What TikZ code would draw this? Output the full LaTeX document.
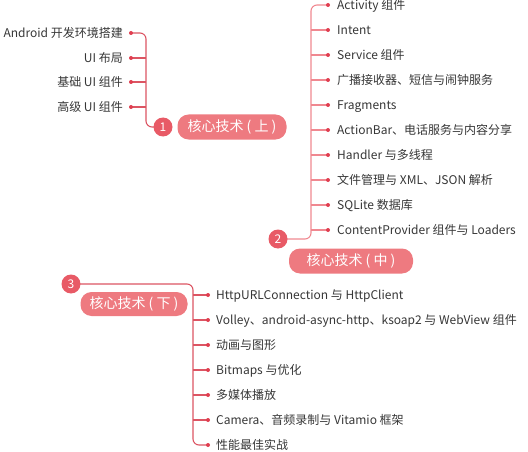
\documentclass[tikz,border=0pt]{standalone}
\usepackage{fontspec}
\setmainfont{Noto Sans CJK SC}
\usetikzlibrary{backgrounds}
\definecolor{lineA}{HTML}{DC5563}
\definecolor{lineB}{HTML}{F08890}
\definecolor{dotc}{HTML}{E03E50}
\definecolor{circc}{HTML}{E85A66}
\definecolor{boxc}{HTML}{EE7A80}
\definecolor{txt}{HTML}{363636}
\tikzset{
  item/.style={font=\fontsize{12}{14}\selectfont, text=txt, inner sep=0pt},
  dotn/.style={circle, fill=dotc, inner sep=0pt, minimum size=4pt},
  numc/.style={circle, fill=circc, text=white, inner sep=0pt, minimum size=19pt, font=\fontsize{12}{14}\selectfont},
  topic/.style={rounded corners=11pt, fill=boxc, text=white, inner sep=0pt, minimum height=25pt, font=\fontsize{14}{16}\selectfont},
  conA/.style={draw=lineA, line width=1.1pt, rounded corners=6pt},
  conB/.style={draw=lineB, line width=1.1pt, rounded corners=6pt},
}
\begin{document}
\begin{tikzpicture}[x=1pt,y=-1pt]
\useasboundingbox (0,0) rectangle (528,452);
% ---- group 1
\node[numc] (c1) at (163,127) {1};
\node[topic, minimum width=109pt] (t1) at (232,127) {核心技术 ( 上 )};
\coordinate (j1) at (146,33);
\foreach \i/\y/\t in {1/33/Android 开发环境搭建, 2/58/UI 布局, 3/82/基础 UI 组件, 4/107/高级 UI 组件}{
  \node[dotn] (d1\i) at (131,\y) {};
  \node[item, anchor=base east] (l1\i) at (123,\y+4.5) {\t};
}
% ---- group 2
\node[numc] (c2) at (278,239) {2};
\node[topic, minimum width=124pt] (t2) at (351,261) {核心技术 ( 中 )};
\coordinate (j2) at (311,5);
\foreach \i/\y/\t in {1/5/Activity 组件, 2/30/Intent, 3/55/Service 组件, 4/80/广播接收器、短信与闹钟服务, 5/105/Fragments, 6/130/ActionBar、电话服务与内容分享, 7/155/Handler 与多线程, 8/180/文件管理与 XML、JSON 解析, 9/205/SQLite 数据库, 10/230/ContentProvider 组件与 Loaders}{
  \node[dotn] (d2\i) at (328,\y) {};
  \node[item, anchor=base west] (l2\i) at (337,\y+4.8) {\t};
}
% ---- group 3
\node[numc] (c3) at (71,284) {3};
\node[topic, minimum width=107pt, minimum height=24pt] (t3) at (134,304) {核心技术 ( 下 )};
\coordinate (j3) at (193,284);
\foreach \i/\y/\t in {1/295/HttpURLConnection 与 HttpClient, 2/320/Volley、android-async-http、ksoap2 与 WebView 组件, 3/345/动画与图形, 4/370/Bitmaps 与优化, 5/395/多媒体播放, 6/420/Camera、音频录制与 Vitamio 框架, 7/445/性能最佳实战}{
  \node[dotn] (d3\i) at (208,\y) {};
  \node[item, anchor=base west] (l3\i) at (216,\y+4.5) {\t};
}
\begin{pgfonlayer}{background}
  \draw[conA] (d11.center) -- (j1) |- (c1.center);
  \foreach \i in {2,3,4} \draw[conA, rounded corners=0pt] (d1\i.center) -- (d1\i.center -| j1);
  \draw[conB] (d21.center) -- (j2) |- (c2.center);
  \foreach \i in {2,...,10} \draw[conB, rounded corners=0pt] (d2\i.center) -- (d2\i.center -| j2);
  \draw[conA] (c3.center) -- (j3) |- (d37.center);
  \foreach \i in {1,...,6} \draw[conA, rounded corners=0pt] (d3\i.center) -- (d3\i.center -| j3);
\end{pgfonlayer}
\end{tikzpicture}
\end{document}
